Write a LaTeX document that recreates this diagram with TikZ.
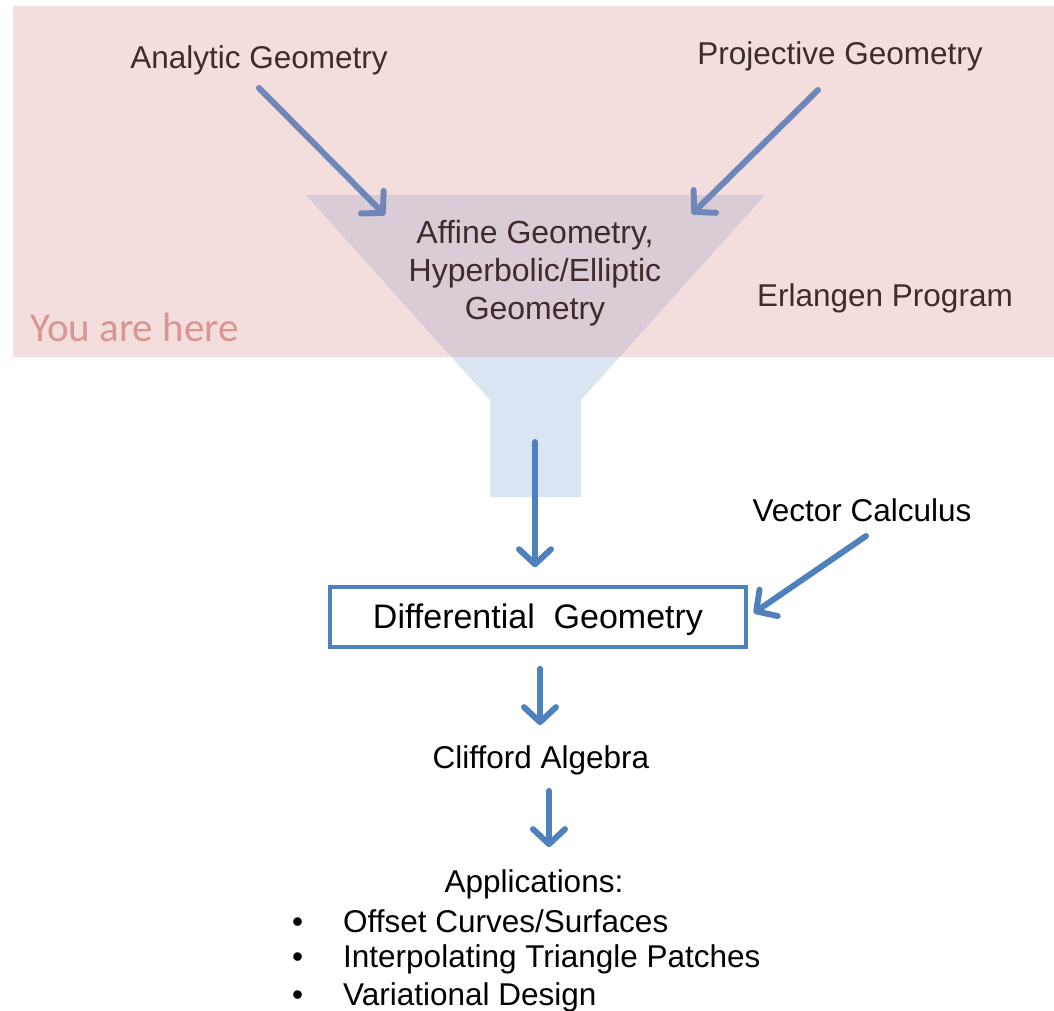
\documentclass[tikz,border=0pt]{standalone}
\usepackage{fontspec}
\setmainfont{Liberation Sans}
\newfontfamily\calfont{Carlito}
\usetikzlibrary{arrows.meta,calc}
\definecolor{pinkbg}{HTML}{F3DDDD}
\definecolor{funnelblue}{HTML}{DBE5F1}
\definecolor{overlap}{HTML}{DACCD6}
\definecolor{arrblue}{HTML}{4F81BD}
\definecolor{arrmuted}{HTML}{6F86B8}
\definecolor{browntext}{HTML}{3F2B2B}
\definecolor{herecol}{HTML}{D99594}
\tikzset{
  lbl/.style={font=\fontsize{31.5}{38}\selectfont, inner sep=0pt, align=center},
  toplbl/.style={lbl, text=browntext},
  flowarrow/.style={line width=6pt, line cap=round, draw=arrblue,
    -{Straight Barb[length=15pt,width=32pt,line width=6pt,round]}},
  mutedarrow/.style={flowarrow, draw=arrmuted},
}
\begin{document}
\begin{tikzpicture}[x=1pt,y=-1pt]
\useasboundingbox (0,0) rectangle (1054,1010);
\fill[white] (0,0) rectangle (1054,1010);
% pink band
\fill[pinkbg] (13,6) rectangle (1054,357);
% funnel
\fill[funnelblue] (306,195) -- (765,195) -- (581,400) -- (581,497) -- (490,497) -- (490,400) -- cycle;
% overlap of funnel and band
\fill[overlap] (306,195) -- (765,195) -- ($(765,195)!{(357-195)/(400-195)}!(581,400)$) -- ($(306,195)!{(357-195)/(400-195)}!(490,400)$) -- cycle;

% labels
\node[toplbl] (analytic) at (259,60) {Analytic Geometry};
\node[toplbl] (projective) at (840,56) {Projective Geometry};
\node[toplbl, font=\fontsize{32}{38}\selectfont] (affine) at (535,273) {Affine Geometry,\\Hyperbolic/Elliptic\\Geometry};
\node[toplbl] (erlangen) at (885,298) {Erlangen Program};
\node[anchor=west, inner sep=0pt, text=herecol, font=\calfont\fontsize{41}{46}\selectfont] (here) at (30,327) {You are here};
\coordinate (funnelout) at (535,442);
\node[lbl] (vector) at (862,510) {Vector Calculus};
\node[draw=arrblue, line width=3.5pt, minimum width=416pt, minimum height=60pt, inner sep=0pt,
  font=\fontsize{34}{40}\selectfont, text depth=2pt] (diff) at (538,617) {Differential\ \ Geometry};
\node[lbl] (clifford) at (541,760) {Clifford Algebra};
\node[lbl] (apps) at (534,884) {Applications:};
\node[lbl, anchor=west] (b1) at (292,921) {\textbullet\hspace{40pt}Offset Curves/Surfaces};
\node[lbl, anchor=west] (b2) at (292,959) {\textbullet\hspace{40pt}Interpolating Triangle Patches};
\node[lbl, anchor=west] (b3) at (292,997) {\textbullet\hspace{40pt}Variational Design};

% arrows
\draw[mutedarrow] ($(analytic.center)+(0,28)$) -- ($(affine.center)+(-150,-58)$);
\draw[mutedarrow] ($(projective.center)+(-22,34)$) -- ($(affine.center)+(157,-59)$);
\draw[flowarrow] (funnelout) -- ($(diff.north -| funnelout)+(0,-18)$);
\draw[flowarrow] ($(vector.center)+(4,26)$) -- ($(diff.east)+(6,-4)$);
\draw[flowarrow] ($(diff.south)+(2,20)$) -- ($(clifford.north)+(-1,-20)$);
\draw[flowarrow] ($(clifford.south)+(8,16)$) -- ($(apps.north)+(15,-22)$);
\end{tikzpicture}
\end{document}
